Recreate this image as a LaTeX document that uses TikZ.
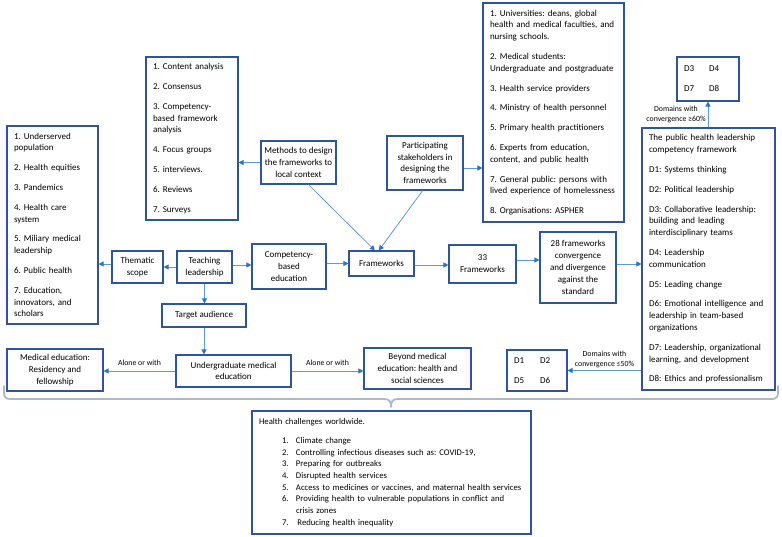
\documentclass[tikz,border=0pt]{standalone}
\usepackage{fontspec}
\setmainfont{Carlito}
\usetikzlibrary{arrows.meta,calc}
\definecolor{boxc}{RGB}{47,85,151}
\definecolor{arrc}{RGB}{91,155,213}
\definecolor{headc}{RGB}{46,117,182}
\definecolor{bracec}{RGB}{173,185,202}
\begin{document}
\frenchspacing
\begin{tikzpicture}[x=1pt,y=-1pt,
  box/.style={draw=boxc, line width=1.1pt, fill=white, inner xsep=7pt, inner ysep=2pt,
    font=\fontsize{9}{11.8}\selectfont, align=center},
  lbox/.style={box, align=left},
  arr/.style={draw=arrc, line width=0.8pt, -{Triangle[length=5pt,width=5pt,color=headc]}},
  lab/.style={font=\fontsize{7.8}{10.5}\selectfont, inner sep=0pt, align=center}]
\useasboundingbox (0,0) rectangle (782,537);

% boxes
\node[lbox, text width=77pt, minimum height=198pt] (list) at (52.5,225) {1. Underserved\\population\\[8pt]2. Health equities\\[8pt]3. Pandemics\\[8pt]4. Health care\\system\\[8pt]5. Miliary medical\\leadership\\[8pt]6. Public health\\[8pt]7. Education,\\innovators, and\\scholars};
\node[box, minimum width=51pt, minimum height=32pt, inner xsep=2pt] (thematic) at (137.5,267) {Thematic\\scope};
\node[box, minimum width=55pt, minimum height=32pt, inner xsep=2pt] (teach) at (204.5,267) {Teaching\\leadership};
\node[box, minimum width=74pt, minimum height=45pt, inner xsep=2pt] (comp) at (289,266.5) {Competency-\\based\\education};
\node[box, minimum width=84pt, minimum height=23pt, inner xsep=2pt] (target) at (204,315.5) {Target audience};
\node[box, minimum width=115pt, minimum height=32pt, inner xsep=2pt] (ug) at (233.5,371) {Undergraduate medical\\education};
\node[box, minimum width=96pt, minimum height=42pt, inner xsep=2pt] (med) at (55,370) {Medical education:\\Residency and\\fellowship};
\node[box, minimum width=107pt, minimum height=41pt, inner xsep=2pt] (beyond) at (417.5,368.5) {Beyond medical\\education: health and\\social sciences};
\node[lbox, text width=78pt, minimum height=163pt] (mlist) at (192,138.5) {1. Content analysis\\[8pt]2. Consensus\\[8pt]3. Competency-\\based framework\\analysis\\[8pt]4. Focus groups\\[8pt]5. interviews.\\[8pt]6. Reviews\\[8pt]7. Surveys};
\node[box, minimum width=75pt, minimum height=43pt, inner xsep=2pt] (methods) at (298.5,162.5) {Methods to design\\the frameworks to\\local context};
\node[box, minimum width=76pt, minimum height=54pt, inner xsep=2pt] (part) at (425,163) {Participating\\stakeholders in\\designing the\\frameworks};
\node[lbox, text width=127pt, minimum height=219pt] (slist) at (553.5,112.5) {1. Universities: deans, global\\health and medical faculties, and\\nursing schools.\\[8pt]2. Medical students:\\Undergraduate and postgraduate\\[8pt]3. Health service providers\\[8pt]4. Ministry of health personnel\\[8pt]5. Primary health practitioners\\[8pt]6. Experts from education,\\content, and public health\\[8pt]7. General public: persons with\\lived experience of homelessness\\[8pt]8. Organisations: ASPHER};
\node[box, minimum width=65pt, minimum height=25pt, inner xsep=2pt] (fw) at (381.5,263.5) {Frameworks};
\node[box, minimum width=67pt, minimum height=38pt, inner xsep=2pt] (f33) at (482.5,264) {33\\Frameworks};
\node[box, minimum width=76pt, minimum height=71pt, inner xsep=2pt] (f28) at (578,267.5) {28 frameworks\\convergence\\and divergence\\against the\\standard};
\node[lbox, text width=48pt, minimum height=44pt] (d34) at (708,79) {D3\hspace{15pt}D4\\[8pt]D7\hspace{15pt}D8};
\node[lbox, text width=119pt, minimum height=262pt] (phf) at (708.5,259) {The public health leadership\\competency framework\\[8pt]D1: Systems thinking\\[8pt]D2: Political leadership\\[8pt]D3: Collaborative leadership:\\building and leading\\interdisciplinary teams\\[8pt]D4: Leadership\\communication\\[8pt]D5: Leading change\\[8pt]D6: Emotional intelligence and\\leadership in team-based\\organizations\\[8pt]D7: Leadership, organizational\\learning, and development\\[8pt]D8: Ethics and professionalism};
\node[lbox, text width=46pt, minimum height=41pt] (d12) at (537,370.5) {D1\hspace{16pt}D2\\[8pt]D5\hspace{16pt}D6};
\node[lbox, text width=265pt, minimum height=123pt, font=\fontsize{8.7}{11.7}\selectfont] (health) at (391.5,472.5) {Health challenges worldwide.\\[7.3pt]
\hspace*{23pt}\makebox[14pt][l]{1.}Climate change\\
\hspace*{23pt}\makebox[14pt][l]{2.}Controlling infectious diseases such as: COVID-19,\\
\hspace*{23pt}\makebox[14pt][l]{3.}Preparing for outbreaks\\
\hspace*{23pt}\makebox[14pt][l]{4.}Disrupted health services\\
\hspace*{23pt}\makebox[14pt][l]{5.}Access to medicines or vaccines, and maternal health services\\
\hspace*{23pt}\makebox[14pt][l]{6.}Providing health to vulnerable populations in conflict and\\
\hspace*{37pt}crisis zones\\
\hspace*{23pt}\makebox[14pt][l]{7.}\,Reducing health inequality};

% connectors
\draw[arr] ([yshift=3pt]thematic.west) -- ([yshift=3pt]thematic.west -| list.east);
\draw[arr] (teach.west) -- (thematic.east);
\draw[arr] ([yshift=2pt]teach.east) -- ([yshift=2pt]teach.east -| comp.west);
\draw[arr] (comp.east |- fw.west) -- (fw.west);
\draw[arr] ([yshift=-1.5pt]fw.east) -- ([yshift=-1.5pt]fw.east -| f33.west);
\draw[arr] ([yshift=4pt]f33.east) -- ([yshift=4pt]f33.east -| f28.west);
\draw[arr] ([yshift=3.5pt]f28.east) -- ([yshift=3.5pt]f28.east -| phf.west);
\draw[arr] (teach.south) -- (teach.south |- target.north);
\draw[arr] (target.south) -- (target.south |- ug.north);
\draw[arr] (ug.west) -- node[lab, above=5pt] {Alone or with} (ug.west -| med.east);
\draw[arr] (ug.east) -- node[lab, above=5pt] {Alone or with} (ug.east -| beyond.west);
\draw[arr] (methods.west) -- (methods.west -| mlist.east);
\draw[arr] ([yshift=-5pt]part.east) -- ([yshift=-5pt]part.east -| slist.west);
\draw[arr] ($(methods.south west)!0.63!(methods.south east)$) -- ($(fw.north west)!0.4!(fw.north east)$);
\draw[arr] ($(part.south west)!0.47!(part.south east)$) -- ($(fw.north west)!0.46!(fw.north east)$);
\draw[arr] (phf.north -| d34.south) -- node[lab, left=2pt] {Domains with\\convergence ≥60\%} (d34.south);
\draw[arr] (d12.east -| phf.west) -- node[lab, above=2pt] {Domains with\\convergence ≤50\%} (d12.east);

% brace
\draw[bracec, line width=1.8pt, line join=round, line cap=round]
  (4,386) -- (4,393) .. controls (4,397) and (6,399) .. (10,399) -- (384,399)
  .. controls (389,399) and (391,401) .. (391,407)
  .. controls (391,401) and (393,399) .. (398,399) -- (772,399)
  .. controls (776,399) and (778,397) .. (778,393) -- (778,386);
\end{tikzpicture}
\end{document}
